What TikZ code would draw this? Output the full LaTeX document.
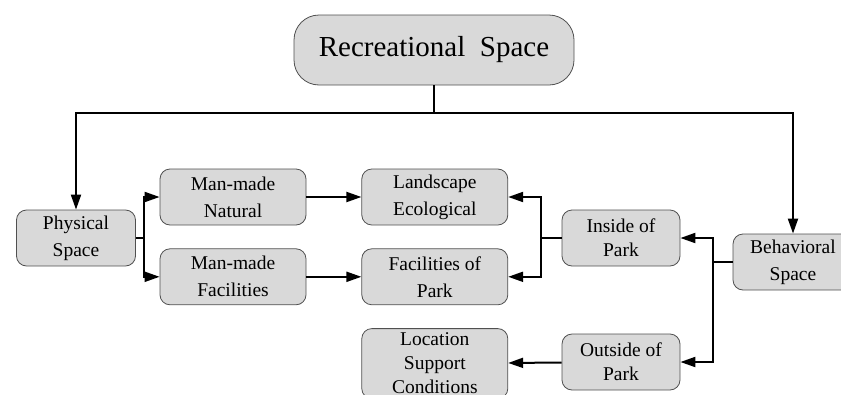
\documentclass[tikz,border=0pt]{standalone}
\usepackage{fontspec}
\setmainfont{Liberation Serif}
\usetikzlibrary{positioning,arrows.meta}
\definecolor{boxfill}{HTML}{D9D9D9}
\definecolor{boxline}{HTML}{505050}
\tikzset{
  box/.style={draw=boxline,fill=boxfill,rounded corners=10pt,line width=.8pt,
    minimum width=146pt,minimum height=56pt,align=center,inner sep=0pt,
    font=\fontsize{19.5}{27}\selectfont},
  tight/.style={font=\fontsize{19.5}{24}\selectfont},
  link/.style={line width=2pt,-{Triangle[length=15pt,width=10pt]}}
}
\begin{document}
\begin{tikzpicture}[x=1pt,y=-1pt]
\useasboundingbox (0,0) rectangle (841,394);
\clip (0,0) rectangle (841,394);
\path
  (434,50) node [box,minimum width=280pt,minimum height=70pt,
    rounded corners=25pt,font=\fontsize{29}{34}\selectfont] (rec)
    {Recreational\hspace{.5em}Space}
  (76,238) node [box,minimum width=119pt] (phys) {Physical\\Space}
  (233,197) node [box] (natural) {Man-made\\Natural}
  node [box,below=23pt of natural] (manfac) {Man-made\\Facilities}
  node [box,right=55pt of natural] (landscape) {Landscape\\Ecological}
  node [box,right=55pt of manfac] (facpark) {Facilities of\\Park}
  node [box,tight,below=23pt of facpark,minimum height=70pt] (location)
    {Location\\Support\\Conditions}
  (621,238) node [box,tight,minimum width=118pt] (inside) {Inside of\\Park}
  (621,362) node [box,tight,minimum width=118pt] (outside) {Outside of\\Park}
  (793,262) node [box,minimum width=120pt] (behav) {Behavioral\\Space};
\draw [link] (rec.south) -- +(0,28) -| (phys.north);
\draw [link] (rec.south) -- +(0,28) -| (behav.north);
\draw [link] (phys.east) -- +(8,0) |- (natural.west);
\draw [link] (phys.east) -- +(8,0) |- (manfac.west);
\draw [link] (natural) -- (landscape);
\draw [link] (manfac) -- (facpark);
\draw [link] (inside.west) -- +(-21,0) |- (landscape.east);
\draw [link] (inside.west) -- +(-21,0) |- (facpark.east);
\draw [link] (behav.west) -- +(-20,0) |- (inside.east);
\draw [link] (behav.west) -- +(-20,0) |- (outside.east);
\draw [link] (outside) -- (location);
\end{tikzpicture}
\end{document}
